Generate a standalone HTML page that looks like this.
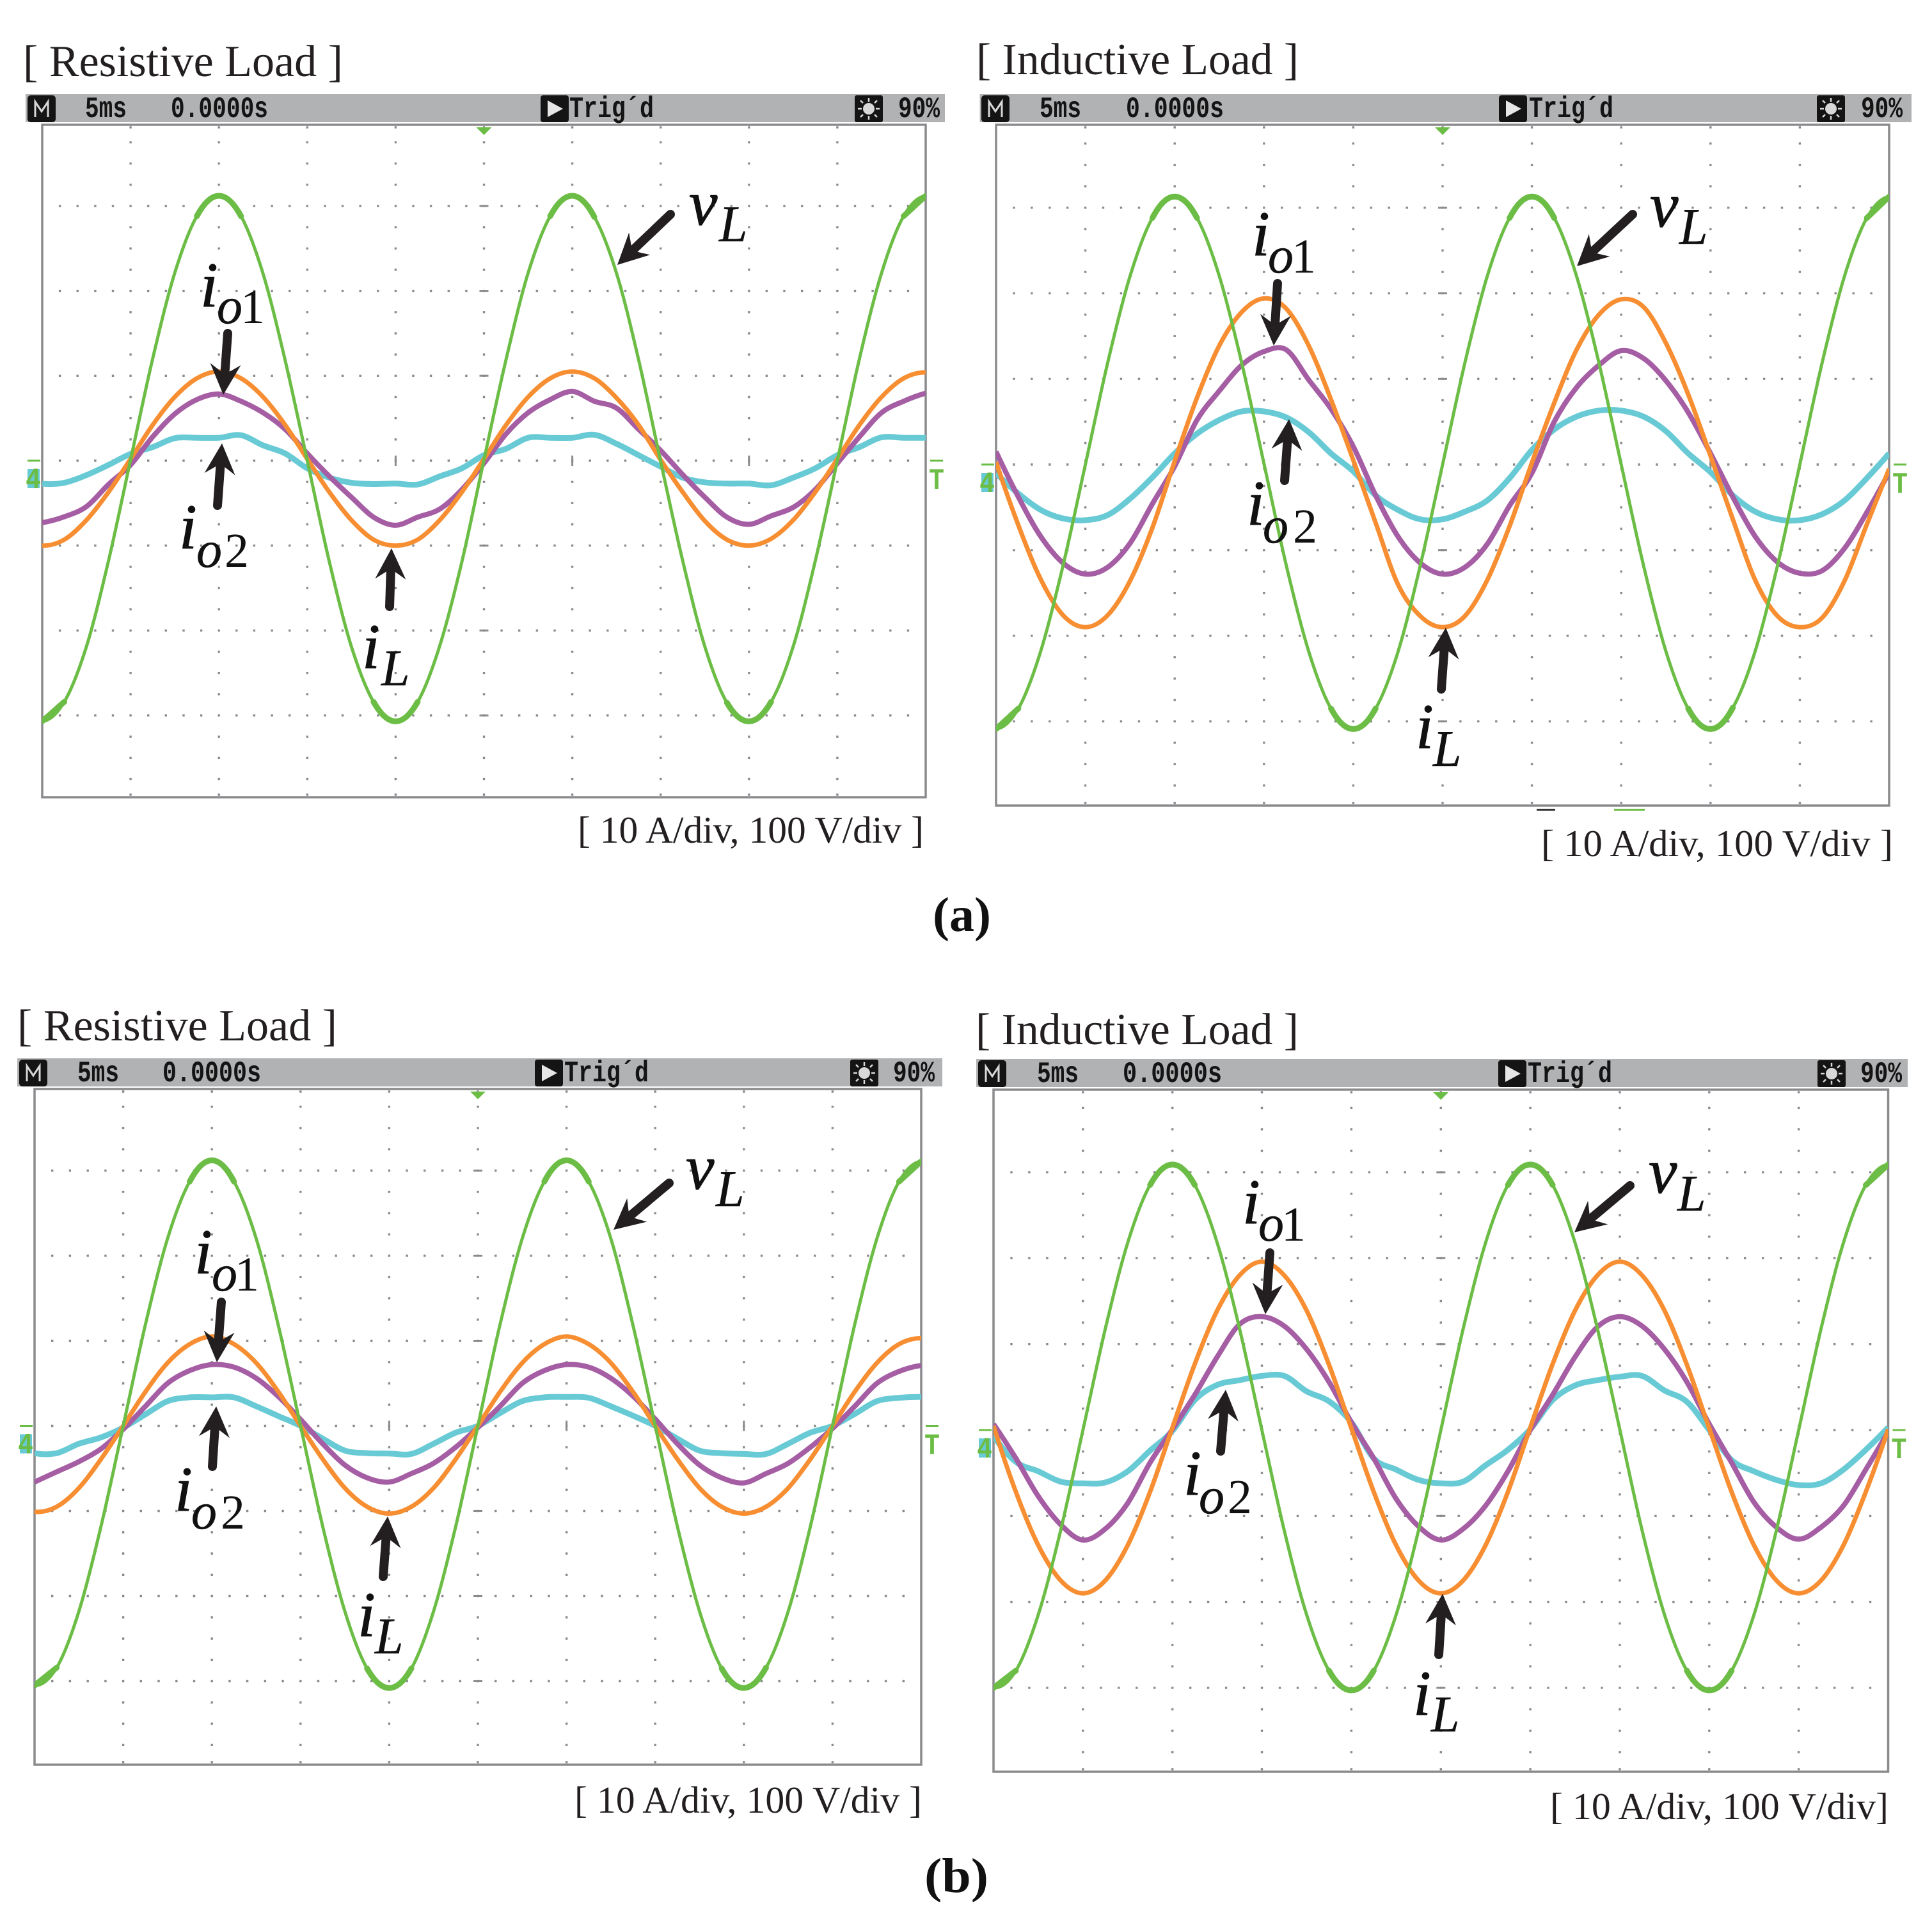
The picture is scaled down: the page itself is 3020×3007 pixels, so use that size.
<!DOCTYPE html>
<html lang="en">
<head>
<meta charset="utf-8">
<title>Oscilloscope waveforms: resistive and inductive load</title>
<style>
html,body{margin:0;padding:0;background:#fff;}
svg{display:block;}
.title{font-family:"Liberation Serif",serif;font-size:70px;fill:#231f20;}
.foot{font-family:"Liberation Serif",serif;font-size:59px;fill:#231f20;}
.cap{font-family:"Liberation Serif",serif;font-size:76px;font-weight:bold;fill:#111;}
.mono{font-family:"Liberation Mono",monospace;font-size:46px;font-weight:bold;fill:#141414;}
.main{font-family:"Liberation Serif",serif;font-style:italic;font-size:100px;fill:#111;stroke:#111;stroke-width:1;}
.sub{font-size:80px;stroke-width:0.5;}
.num{font-style:normal;font-size:76px;stroke-width:0;}
.mk{font-family:"Liberation Mono",monospace;font-weight:bold;font-size:46px;}
</style>
</head>
<body>
<svg id="figure" xmlns="http://www.w3.org/2000/svg" width="3020" height="3007" viewBox="0 0 3020 3007">
<defs>
<g id="sun-glyph">
<rect x="0" y="0" width="44" height="42" rx="3" fill="#141414"/>
<circle cx="22" cy="21" r="9" fill="#d8d8d8"/>
<path d="M22 4v6M22 32v6M5 21h6M33 21h6M9 8l4 4M35 8l-4 4M9 34l4-4M35 34l-4-4" stroke="#d8d8d8" stroke-width="2.5"/>
</g>
<g id="m-glyph">
<rect x="0" y="0" width="44" height="42" rx="5" fill="#141414"/>
<path d="M12 34V10l10 15 10-15v24" fill="none" stroke="#d8d8d8" stroke-width="3"/>
</g>
<g id="run-glyph">
<rect x="0" y="0" width="44" height="42" rx="4" fill="#141414"/>
<path d="M11 8l24 13-24 13z" fill="#e6e6e6"/>
</g>
</defs>

<!-- (a) resistive -->
<text class="title" x="36" y="119" textLength="500" lengthAdjust="spacingAndGlyphs">[ Resistive Load ]</text>
<g>
<rect x="40" y="147" width="1437" height="44" fill="#b1b2b4"/>
<use href="#m-glyph" x="43" y="149"/>
<text class="mono" x="133" y="183" textLength="65" lengthAdjust="spacingAndGlyphs">5ms</text>
<text class="mono" x="267" y="183" textLength="152" lengthAdjust="spacingAndGlyphs">0.0000s</text>
<use href="#run-glyph" x="845" y="149"/>
<text class="mono" x="890" y="183" textLength="132" lengthAdjust="spacingAndGlyphs">Trig´d</text>
<use href="#sun-glyph" x="1336" y="149"/>
<text class="mono" x="1404" y="183" textLength="65" lengthAdjust="spacingAndGlyphs">90%</text>
</g>
<g id="panel-a1"></g>
<text class="foot" x="903" y="1317" textLength="541" lengthAdjust="spacingAndGlyphs">[ 10 A/div, 100 V/div ]</text>

<!-- (a) inductive -->
<text class="title" x="1526" y="116" textLength="504" lengthAdjust="spacingAndGlyphs">[ Inductive Load ]</text>
<g>
<rect x="1531.6" y="147" width="1456.4" height="44" fill="#b1b2b4"/>
<use href="#m-glyph" x="1534" y="149"/>
<text class="mono" x="1625" y="183" textLength="65" lengthAdjust="spacingAndGlyphs">5ms</text>
<text class="mono" x="1760" y="183" textLength="153" lengthAdjust="spacingAndGlyphs">0.0000s</text>
<use href="#run-glyph" x="2343" y="149"/>
<text class="mono" x="2390" y="183" textLength="132" lengthAdjust="spacingAndGlyphs">Trig´d</text>
<use href="#sun-glyph" x="2840" y="149"/>
<text class="mono" x="2909" y="183" textLength="65" lengthAdjust="spacingAndGlyphs">90%</text>
</g>
<g id="panel-a2"></g>
<rect x="2402" y="1264" width="29" height="3" fill="#333"/>
<rect x="2523" y="1264" width="48" height="3" fill="#6cbd45"/>
<text class="foot" x="2409" y="1338" textLength="550" lengthAdjust="spacingAndGlyphs">[ 10 A/div, 100 V/div ]</text>

<text class="cap" x="1458" y="1455" textLength="91" lengthAdjust="spacingAndGlyphs">(a)</text>

<!-- (b) resistive -->
<text class="title" x="27" y="1626" textLength="500" lengthAdjust="spacingAndGlyphs">[ Resistive Load ]</text>
<g>
<rect x="27" y="1654" width="1446" height="44" fill="#b1b2b4"/>
<use href="#m-glyph" x="30" y="1656"/>
<text class="mono" x="121" y="1690" textLength="65" lengthAdjust="spacingAndGlyphs">5ms</text>
<text class="mono" x="254" y="1690" textLength="154" lengthAdjust="spacingAndGlyphs">0.0000s</text>
<use href="#run-glyph" x="836" y="1656"/>
<text class="mono" x="882" y="1690" textLength="132" lengthAdjust="spacingAndGlyphs">Trig´d</text>
<use href="#sun-glyph" x="1329" y="1656"/>
<text class="mono" x="1396" y="1690" textLength="65" lengthAdjust="spacingAndGlyphs">90%</text>
</g>
<g id="panel-b1"></g>
<text class="foot" x="898" y="2833" textLength="543" lengthAdjust="spacingAndGlyphs">[ 10 A/div, 100 V/div ]</text>

<!-- (b) inductive -->
<text class="title" x="1525" y="1632" textLength="505" lengthAdjust="spacingAndGlyphs">[ Inductive Load ]</text>
<g>
<rect x="1526" y="1655" width="1456" height="44" fill="#b1b2b4"/>
<use href="#m-glyph" x="1529" y="1657"/>
<text class="mono" x="1621" y="1691" textLength="65" lengthAdjust="spacingAndGlyphs">5ms</text>
<text class="mono" x="1755" y="1691" textLength="155" lengthAdjust="spacingAndGlyphs">0.0000s</text>
<use href="#run-glyph" x="2342" y="1657"/>
<text class="mono" x="2388" y="1691" textLength="132" lengthAdjust="spacingAndGlyphs">Trig´d</text>
<use href="#sun-glyph" x="2841" y="1657"/>
<text class="mono" x="2908" y="1691" textLength="65" lengthAdjust="spacingAndGlyphs">90%</text>
</g>
<g id="panel-b2"></g>
<text class="foot" x="2423" y="2843" textLength="529" lengthAdjust="spacingAndGlyphs">[ 10 A/div, 100 V/div]</text>

<text class="cap" x="1445" y="2957" textLength="100" lengthAdjust="spacingAndGlyphs">(b)</text>

<g id="annotation-arrows"></g>

<!-- waveform labels: panel a resistive -->
<text class="main"><tspan x="1077" y="351">v</tspan><tspan class="sub" x="1124" y="377">L</tspan></text>
<text class="main"><tspan x="313" y="479">i</tspan><tspan class="sub" x="339" y="505">o</tspan><tspan class="num" x="376" y="505">1</tspan></text>
<text class="main"><tspan x="280" y="857">i</tspan><tspan class="sub" x="307" y="886">o</tspan><tspan class="num" x="351" y="886">2</tspan></text>
<text class="main"><tspan x="566" y="1044">i</tspan><tspan class="sub" x="596" y="1071">L</tspan></text>
<!-- panel a inductive -->
<text class="main"><tspan x="2579" y="354">v</tspan><tspan class="sub" x="2625" y="381">L</tspan></text>
<text class="main"><tspan x="1957" y="399">i</tspan><tspan class="sub" x="1982" y="426">o</tspan><tspan class="num" x="2019" y="426">1</tspan></text>
<text class="main"><tspan x="1949" y="820">i</tspan><tspan class="sub" x="1974" y="848">o</tspan><tspan class="num" x="2021" y="848">2</tspan></text>
<text class="main"><tspan x="2213" y="1169">i</tspan><tspan class="sub" x="2240" y="1197">L</tspan></text>
<!-- panel b resistive -->
<text class="main"><tspan x="1072" y="1858">v</tspan><tspan class="sub" x="1119" y="1885">L</tspan></text>
<text class="main"><tspan x="304" y="1990">i</tspan><tspan class="sub" x="331" y="2017">o</tspan><tspan class="num" x="367" y="2017">1</tspan></text>
<text class="main"><tspan x="273" y="2361">i</tspan><tspan class="sub" x="299" y="2389">o</tspan><tspan class="num" x="345" y="2389">2</tspan></text>
<text class="main"><tspan x="559" y="2557">i</tspan><tspan class="sub" x="586" y="2584">L</tspan></text>
<!-- panel b inductive -->
<text class="main"><tspan x="2577" y="1864">v</tspan><tspan class="sub" x="2622" y="1892">L</tspan></text>
<text class="main"><tspan x="1942" y="1912">i</tspan><tspan class="sub" x="1967" y="1939">o</tspan><tspan class="num" x="2003" y="1939">1</tspan></text>
<text class="main"><tspan x="1850" y="2336">i</tspan><tspan class="sub" x="1874" y="2365">o</tspan><tspan class="num" x="1919" y="2365">2</tspan></text>
<text class="main"><tspan x="2209" y="2680">i</tspan><tspan class="sub" x="2237" y="2706">L</tspan></text>
</svg>

<script>
// Sample spacing: one sample every quarter division, 5 ms/div.
const sampleStepMs = 1.25;
const msPerDiv = 5;
const voltsPerDiv = 100;
const ampsPerDiv = 10;

// (a) resistive load: volts and amps at each sample
const a1VL = [-307,-284,-219,-118,1,120,221,288,312,288,220,118,0,-119,-219,-284,-307,-284,-218,-119,1,119,221,288,312,287,221,119,-1,-118,-219,-285,-307,-284,-219,-118,0,120,221,288,312];
const a1IL = [-10.0,-9.3,-7.0,-3.7,0.2,4.2,7.5,9.7,10.5,9.7,7.5,4.2,0.2,-3.7,-7.0,-9.3,-10.0,-9.3,-7.0,-3.7,0.2,4.2,7.5,9.7,10.5,9.7,7.4,4.2,0.1,-3.7,-7.1,-9.3,-10.0,-9.2,-7.0,-3.7,0.2,4.2,7.5,9.7,10.4];
const a1IO1 = [-7.3,-6.6,-5.4,-2.8,-0.5,2.8,5.5,7.2,7.85,7.0,5.65,3.7,0.85,-1.85,-4.3,-6.65,-7.6,-6.65,-5.7,-3.4,-0.3,3.15,5.65,7.2,8.15,7.0,6.2,3.7,1.2,-1.65,-4.3,-6.65,-7.5,-6.5,-5.5,-3.4,-0.3,2.8,5.65,7.0,7.95];
const a1IO2 = [-2.7,-2.6,-1.7,-0.5,0.8,1.6,2.65,2.7,2.7,3.0,1.8,0.85,-0.9,-2.0,-2.6,-2.75,-2.7,-2.8,-1.85,-0.9,0.65,1.4,2.7,2.7,2.7,3.05,2.0,0.65,-0.7,-2.0,-2.55,-2.7,-2.7,-2.9,-2.0,-0.9,0.65,1.6,2.75,2.7,2.7];

// (a) inductive load
const a2VL = [-309,-285,-218,-118,0,119,220,288,313,288,220,119,1,-118,-218,-285,-309,-285,-219,-118,0,119,220,288,313,288,220,119,0,-118,-218,-285,-309,-284,-218,-118,0,119,220,288,313];
const a2IL = [0.3,-7.1,-13.4,-17.6,-19.0,-17.6,-13.6,-7.4,0.4,7.8,13.9,17.8,19.4,18.2,13.9,7.6,0.5,-6.8,-14.0,-17.7,-19.0,-17.7,-13.5,-7.2,0.2,7.2,13.4,17.5,19.3,18.4,14.2,8.2,1.0,-6.4,-13.5,-17.7,-19.0,-17.9,-13.6,-7.0,-0.5];
const a2IO1 = [1.5,-3.8,-8.4,-11.5,-12.8,-12.0,-9.2,-4.6,-0.2,5.2,8.6,11.6,13.2,13.4,9.9,6.5,2.1,-3.6,-8.4,-11.5,-12.8,-12.0,-9.3,-4.8,-1.0,5.0,9.0,11.6,13.3,12.4,9.8,6.1,1.3,-3.8,-8.4,-11.4,-12.7,-12.4,-9.8,-5.6,-0.9];
const a2IO2 = [-1.0,-3.4,-5.3,-6.3,-6.5,-5.9,-4.0,-1.5,1.3,3.6,5.2,6.2,6.2,5.5,3.8,1.3,-0.8,-3.6,-5.3,-6.4,-6.4,-5.5,-4.2,-1.6,1.7,4.1,5.6,6.3,6.3,5.6,3.9,1.3,-0.9,-3.6,-5.5,-6.4,-6.5,-5.8,-4.2,-1.6,1.3];

// (b) resistive load
const b1VL = [-305,-284,-218,-118,0,119,220,287,312,287,220,118,0,-118,-218,-285,-308,-285,-218,-118,0,119,220,287,312,287,220,118,0,-118,-218,-285,-308,-284,-218,-118,0,119,220,287,311];
const b1IL = [-10.1,-9.5,-7.3,-3.9,0,4,7.4,9.6,10.5,9.6,7.4,4,0,-3.9,-7.3,-9.5,-10.3,-9.5,-7.3,-3.9,0,4,7.4,9.6,10.5,9.6,7.4,4,0,-3.9,-7.3,-9.5,-10.3,-9.5,-7.3,-3.9,0,4,7.4,9.6,10.3];
const b1IO1 = [-6.6,-5.4,-4.2,-2.7,-0.4,2.3,5.0,6.5,7.2,6.9,5.6,3.45,0.75,-2.1,-4.6,-6.1,-6.6,-5.6,-4.4,-2.5,-0.2,2.3,5.0,6.5,7.2,6.9,5.6,3.5,0.8,-2.1,-4.6,-6.1,-6.7,-5.6,-4.4,-2.5,-0.3,2.3,5.0,6.4,7.1];
const b1IO2 = [-3.2,-3.2,-2.1,-1.35,-0.2,1.35,2.9,3.35,3.35,3.35,2.3,1.15,0,-1.5,-2.9,-3.2,-3.25,-3.3,-2.1,-0.8,0,1.5,2.9,3.35,3.4,3.3,2.3,1.2,0,-1.5,-2.9,-3.2,-3.3,-3.3,-2.1,-0.8,0,1.4,2.9,3.3,3.4];

// (b) inductive load
const b2VL = [-300,-280,-215,-117,0,118,218,285,309,285,218,118,0,-117,-215,-280,-303,-280,-215,-117,0,118,218,285,309,285,218,118,1,-117,-215,-280,-303,-280,-215,-117,0,118,218,285,309];
const b2IL = [0.5,-7.2,-13.4,-17.5,-19.0,-17.5,-13.4,-7.2,0.3,7.7,13.9,18.0,19.6,18.0,13.9,7.6,0.2,-7.2,-13.4,-17.5,-19.0,-17.5,-13.4,-7.2,0.3,7.7,13.9,18.0,19.6,18.0,13.9,7.6,0.2,-7.2,-13.4,-17.5,-19.0,-17.5,-13.4,-7.2,0.1];
const b2IO1 = [0.7,-3.3,-7.7,-11.0,-12.8,-11.5,-8.5,-3.8,0.1,4.1,8.5,12.3,13.2,12.1,9.4,5.6,0.9,-3.3,-8.0,-11.2,-12.8,-11.5,-8.8,-4.8,0,4.1,8.5,12.0,13.2,12.1,9.4,5.6,0.7,-3.8,-8.4,-11.3,-12.7,-11.3,-8.8,-4.6,-0.2];
const b2IO2 = [-0.65,-3.7,-4.8,-6.0,-6.2,-6.1,-4.8,-2.4,-0.1,3.5,5.25,5.8,6.3,6.3,4.5,3.35,0.9,-3.3,-4.6,-5.8,-6.2,-6.0,-4.1,-2.3,0.1,3.5,5.2,5.8,6.2,6.3,4.6,3.3,0,-3.5,-4.8,-5.8,-6.4,-6.2,-4.6,-2.3,0.3];

const SVG_NS = 'http://www.w3.org/2000/svg';
const GRID = '#8a8a8d';

function make(tag, attrs, parent) {
  const el = document.createElementNS(SVG_NS, tag);
  Object.keys(attrs).forEach(function (k) { el.setAttribute(k, attrs[k]); });
  parent.appendChild(el);
  return el;
}

function phantom(a, b, c) {
  return c ? [3 * a[0] - 3 * b[0] + c[0], 3 * a[1] - 3 * b[1] + c[1]] : a;
}

function smoothPath(pts) {
  const n = pts.length;
  let d = 'M' + pts[0][0].toFixed(1) + ' ' + pts[0][1].toFixed(1);
  for (let i = 0; i < n - 1; i++) {
    const p0 = i > 0 ? pts[i - 1] : phantom(pts[0], pts[1], pts[2]);
    const p1 = pts[i], p2 = pts[i + 1];
    const p3 = i + 2 < n ? pts[i + 2] : phantom(pts[n - 1], pts[n - 2], pts[n - 3]);
    const c1x = p1[0] + (p2[0] - p0[0]) / 6, c1y = p1[1] + (p2[1] - p0[1]) / 6;
    const c2x = p2[0] - (p3[0] - p1[0]) / 6, c2y = p2[1] - (p3[1] - p1[1]) / 6;
    d += 'C' + c1x.toFixed(1) + ' ' + c1y.toFixed(1) + ' ' + c2x.toFixed(1) + ' ' + c2y.toFixed(1) + ' ' + p2[0].toFixed(1) + ' ' + p2[1].toFixed(1);
  }
  return d;
}

function drawPanel(cfg) {
  const root = document.getElementById(cfg.id);
  const colDiv = (cfg.right - cfg.left) / 10;

  // Axis functions
  const xScale = function (ms) { return cfg.left + (ms / msPerDiv) * colDiv; };
  const yVolts = function (v) { return cfg.zero - (v / voltsPerDiv) * cfg.rowDiv; };
  const yAmps = function (a) { return cfg.zero - (a / ampsPerDiv) * cfg.rowDiv; };

  const clipId = 'clip-' + cfg.id;
  const clipDefs = make('clipPath', { id: clipId }, root);
  make('rect', { x: cfg.left, y: cfg.top, width: cfg.right - cfg.left, height: cfg.bottom - cfg.top }, clipDefs);

  // Graticule dots
  let dots = '';
  const dot = function (x, y) { dots += 'M' + (x - 1.7).toFixed(1) + ' ' + (y - 1.7).toFixed(1) + 'h3.4v3.4h-3.4z'; };
  for (let r = -3; r <= 3; r++) {
    for (let i = 1; i < 50; i++) dot(cfg.left + i * colDiv / 5, cfg.zero + r * cfg.rowDiv);
  }
  for (let c = 1; c < 10; c++) {
    const x = cfg.left + c * colDiv;
    for (let j = -16; j <= 16; j++) {
      const y = cfg.zero + j * cfg.rowDiv / 4;
      if (y > cfg.top + 8 && y < cfg.bottom - 8) dot(x, y);
    }
    dot(x, cfg.top + 4);
    dot(x, cfg.bottom - 4);
  }
  const dotsEl = make('path', { d: dots, fill: GRID }, root);
  
  

  // Centre-line dashes
  let dashes = '';
  const cx = cfg.left + 5 * colDiv;
  for (let r = -3; r <= 3; r++) {
    if (r !== 0) dashes += 'M' + (cx - 7).toFixed(1) + ' ' + (cfg.zero + r * cfg.rowDiv).toFixed(1) + 'h14';
  }
  for (let c = 1; c < 10; c++) {
    if (c !== 5) dashes += 'M' + (cfg.left + c * colDiv).toFixed(1) + ' ' + (cfg.zero - 8).toFixed(1) + 'v16';
  }
  const dashEl = make('path', { d: dashes, stroke: GRID, 'stroke-width': 3, fill: 'none' }, root);
  
  

  // Frame
  const frame = make('rect', { x: cfg.left, y: cfg.top, width: cfg.right - cfg.left, height: cfg.bottom - cfg.top, fill: 'none', stroke: GRID, 'stroke-width': 3.5 }, root);
  
  

  // Trigger position marker
  const trig = make('path', { d: 'M' + (cx - 12) + ' ' + (cfg.top + 4) + 'h24l-12 12z', fill: '#6cbd45' }, root);
  
  

  // Channel ground marker (left)
  const gnd = make('g', {}, root);
  
  
  make('rect', { x: cfg.left - 23, y: cfg.zero - 1.5, width: 20, height: 3, fill: '#6cbd45' }, gnd);
  make('rect', { x: cfg.left - 23, y: cfg.zero + 13, width: 19, height: 30, fill: '#68cad5' }, gnd);
  const four = make('text', { class: 'mk', x: cfg.left - 26, y: cfg.zero + 43, fill: '#6cbd45', textLength: 24, lengthAdjust: 'spacingAndGlyphs' }, gnd);
  four.textContent = '4';

  // Trigger level marker (right)
  const lvl = make('g', {}, root);
  
  
  make('rect', { x: cfg.right + 7, y: cfg.zero - 1.5, width: 20, height: 3, fill: '#6cbd45' }, lvl);
  const tee = make('text', { class: 'mk', x: cfg.right + 5, y: cfg.zero + 44, fill: '#6cbd45', textLength: 24, lengthAdjust: 'spacingAndGlyphs' }, lvl);
  tee.textContent = 'T';

  // Traces (back to front)
  const traces = make('g', { 'clip-path': 'url(#' + clipId + ')', fill: 'none', 'stroke-linejoin': 'round' }, root);
  
  

  const ptsA = function (arr) { return arr.map(function (v, i) { return [xScale(i * sampleStepMs), yAmps(v)]; }); };
  const ptsV = function (arr) { return arr.map(function (v, i) { return [xScale(i * sampleStepMs), yVolts(v)]; }); };

  const teal = make('path', { d: smoothPath(ptsA(cfg.io2)), stroke: '#68cad5', 'stroke-width': 9 }, traces);
  
  

  const purple = make('path', { d: smoothPath(ptsA(cfg.io1)), stroke: '#a55da4', 'stroke-width': 8 }, traces);
  
  

  const orange = make('path', { d: smoothPath(ptsA(cfg.il)), stroke: '#f78e32', 'stroke-width': 7 }, traces);
  
  

  const vPts = ptsV(cfg.vl);
  const green = make('path', { d: smoothPath(vPts), stroke: '#6cbd45', 'stroke-width': 5 }, traces);
  
  

  // The scope trace looks heavier where the voltage flattens at its crests and troughs.
  const vMax = Math.max.apply(null, cfg.vl.map(Math.abs));
  let run = [];
  const flush = function () {
    if (run.length >= 2) {
      const crest = make('path', { d: smoothPath(run), stroke: '#6cbd45', 'stroke-width': 9, 'stroke-linecap': 'round' }, traces);
      
      
    }
    run = [];
  };
  cfg.vl.forEach(function (v, i) {
    if (Math.abs(v) >= 0.9 * vMax) run.push(vPts[i]); else flush();
  });
  flush();
}

function drawArrow(name, x1, y1, x2, y2) {
  const root = document.getElementById('annotation-arrows');
  const len = Math.hypot(x2 - x1, y2 - y1);
  const ux = (x2 - x1) / len, uy = (y2 - y1) / len;
  const nx = -uy, ny = ux;
  const at = function (a, b) { return (x2 - ux * a + nx * b).toFixed(1) + ',' + (y2 - uy * a + ny * b).toFixed(1); };
  const g = make('g', {}, root);
  
  
  make('line', { x1: x1, y1: y1, x2: x2 - ux * 30, y2: y2 - uy * 30, stroke: '#231f20', 'stroke-width': 14, 'stroke-linecap': 'round' }, g);
  make('polygon', { points: at(0, 0) + ' ' + at(48, 24) + ' ' + at(32, 0) + ' ' + at(48, -24), fill: '#231f20' }, g);
}

drawPanel({ id: 'panel-a1', left: 66, right: 1447, top: 195, bottom: 1246, zero: 720, rowDiv: 132.7, vl: a1VL, il: a1IL, io1: a1IO1, io2: a1IO2 });
drawPanel({ id: 'panel-a2', left: 1557, right: 2953, top: 195, bottom: 1259, zero: 726, rowDiv: 133.8, vl: a2VL, il: a2IL, io1: a2IO1, io2: a2IO2 });
drawPanel({ id: 'panel-b1', left: 54, right: 1440, top: 1702, bottom: 2758, zero: 2228.5, rowDiv: 133, vl: b1VL, il: b1IL, io1: b1IO1, io2: b1IO2 });
drawPanel({ id: 'panel-b2', left: 1553, right: 2951.5, top: 1703, bottom: 2769, zero: 2235, rowDiv: 134.3, vl: b2VL, il: b2IL, io1: b2IO1, io2: b2IO2 });

drawArrow('arrow-vl-a-resistive', 1048, 335, 965, 414);
drawArrow('arrow-io1-a-resistive', 356, 521, 349, 617);
drawArrow('arrow-io2-a-resistive', 340, 790, 347, 693);
drawArrow('arrow-il-a-resistive', 609, 948, 612, 857);

drawArrow('arrow-vl-a-inductive', 2552, 335, 2465, 416);
drawArrow('arrow-io1-a-inductive', 1997, 443, 1991, 540);
drawArrow('arrow-io2-a-inductive', 2008, 751, 2015, 655);
drawArrow('arrow-il-a-inductive', 2253, 1077, 2260, 981);

drawArrow('arrow-vl-b-resistive', 1046, 1849, 959, 1922);
drawArrow('arrow-io1-b-resistive', 346, 2035, 339, 2129);
drawArrow('arrow-io2-b-resistive', 332, 2292, 338, 2198);
drawArrow('arrow-il-b-resistive', 599, 2464, 606, 2370);

drawArrow('arrow-vl-b-inductive', 2548, 1853, 2461, 1926);
drawArrow('arrow-io1-b-inductive', 1985, 1958, 1978, 2054);
drawArrow('arrow-io2-b-inductive', 1908, 2268, 1916, 2172);
drawArrow('arrow-il-b-inductive', 2249, 2586, 2255, 2491);
</script>
</body>
</html>
